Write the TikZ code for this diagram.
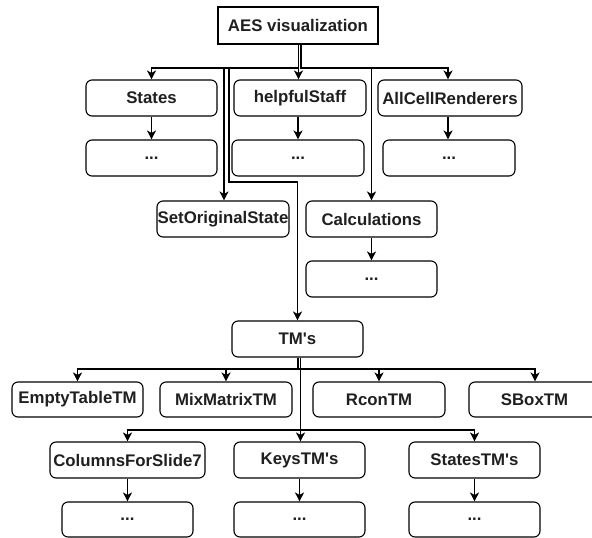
\documentclass[tikz,border=0pt]{standalone}
\usepackage{fontspec}
\setmainfont{Liberation Sans}[Ligatures=TeXOff]
\usetikzlibrary{arrows.meta}
\begin{document}
\begin{tikzpicture}[x=1pt,y=-1pt,
  box/.style={draw=black, line width=1.1pt, rounded corners=6pt, fill=white,
    minimum width=131pt, minimum height=36pt, inner sep=0pt,
    font=\fontsize{16.8}{19}\selectfont\bfseries, text=black!88},
  plain/.style={box, rounded corners=0pt},
  arr/.style={draw=black, line width=1.1pt, -{Stealth[length=9pt,width=9pt,inset=2.5pt]}}
]
\useasboundingbox (0,0) rectangle (592,538);
\clip (0,0) rectangle (592,538);
\fill[white] (0,0) rectangle (592,538);

% nodes
\node[plain, minimum width=160pt, minimum height=37pt] (aes) at (298,25.5) {AES visualization};
\node[box] (states) at (151.5,98) {States};
\node[box, minimum width=132pt] (helpful) at (300,98) {helpfulStaff};
\node[box, minimum width=144pt] (allcell) at (450,98) {AllCellRenderers};
\node[box] (d1) at (151.5,158) {...};
\node[box, minimum width=132pt] (d2) at (298,158) {...};
\node[box, minimum width=132pt] (d3) at (449,158) {...};
\node[box, minimum width=132pt] (setorig) at (223,219) {SetOriginalState};
\node[box] (calc) at (371.5,219) {Calculations};
\node[box] (d4) at (371.5,279) {...};
\node[box] (tms) at (297.5,339) {TM's};
\node[box, minimum height=35pt] (empty) at (77.5,399.5) {EmptyTableTM};
\node[box, minimum width=132pt, minimum height=35pt] (mix) at (226,399.5) {MixMatrixTM};
\node[box, minimum width=132pt, minimum height=35pt] (rcon) at (379,399.5) {RconTM};
\node[box, minimum height=35pt] (sbox) at (534.5,399.5) {SBoxTM};
\node[box, minimum width=155pt] (cols) at (127.5,460) {ColumnsForSlide7};
\node[box] (keys) at (299.5,460) {KeysTM's};
\node[box] (statestm) at (474.5,460) {StatesTM's};
\node[box, minimum height=35pt] (d5) at (127.5,519.5) {...};
\node[box, minimum height=35pt] (d6) at (299.5,519.5) {...};
\node[box, minimum height=35pt] (d7) at (474.5,519.5) {...};

% coordinates for bends
\coordinate (a1) at ([xshift=0.5pt]aes.south);
\coordinate (a2) at ([xshift=3pt]aes.south);
\coordinate (t1) at ([xshift=0.5pt]tms.south);
\coordinate (t2) at ([xshift=3pt]tms.south);

% edges from AES
\draw[arr] (a1) -- (a1 |- 0,68) -| (states.north);
\draw[arr] (a1) -- (a1 |- 0,68) -| ([xshift=1pt]setorig.north);
\draw[arr] (a1) -- (a1 |- 0,68) -| (229,182) -| (tms.north);
\draw[arr] (a1) -- (helpful.north -| a1);
\draw[arr] (a2) -- (a2 |- 0,68) -| ([xshift=-2pt]allcell.north);
\draw[arr] (a2) -- (a2 |- 0,68) -| (calc.north);

% second level
\draw[arr] (states) -- (d1);
\draw[arr] (helpful.south -| d2.north) -- (d2);
\draw[arr] (allcell.south -| 448,0) -- (d3.north -| 448,0);
\draw[arr] (calc) -- (d4);

% edges from TM's
\draw[arr] (t1) -- (t1 |- 0,369) -| (empty.north);
\draw[arr] (t1) -- (t1 |- 0,369) -| (mix.north);
\draw[arr] (t1) -- (t1 |- 0,369) -| (rcon.north);
\draw[arr] (t1) -- (t1 |- 0,369) -| ([xshift=0.5pt]sbox.north);
\draw[arr] (t2) -- (t2 |- 0,430) -| (cols.north);
\draw[arr] (t2) -- (keys.north -| t2);
\draw[arr] (t2) -- (t2 |- 0,430) -| (statestm.north);

\draw[arr] (cols) -- (d5);
\draw[arr] (keys) -- (d6);
\draw[arr] (statestm) -- (d7);
\end{tikzpicture}
\end{document}
